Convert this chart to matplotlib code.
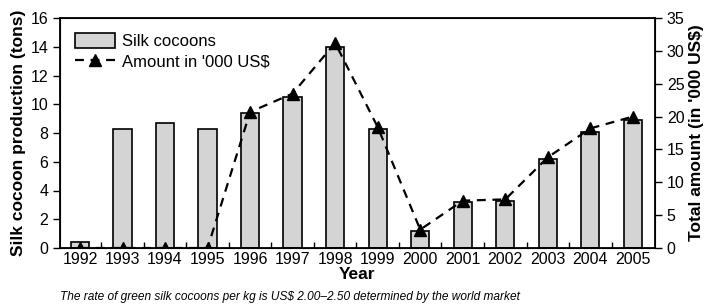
import matplotlib
matplotlib.use("Agg")
import matplotlib.pyplot as plt
import numpy as np
from matplotlib.patches import Patch
from matplotlib.lines import Line2D

years = ["1992", "1993", "1994", "1995", "1996", "1997", "1998",
         "1999", "2000", "2001", "2002", "2003", "2004", "2005"]
cocoons_tons = [0.4, 8.3, 8.7, 8.3, 9.4, 10.5, 14.0, 8.3, 1.2, 3.2, 3.3, 6.2, 8.1, 8.9]
amount_usd_k = [0, 0, 0, 0, 20.7, 23.5, 31.2, 18.4, 2.8, 7.2, 7.4, 13.8, 18.2, 20.0]
left_ticks = [0, 2, 4, 6, 8, 10, 12, 14, 16]
right_ticks = [0, 5, 10, 15, 20, 25, 30, 35]

plt.rcParams['font.family'] = ['Liberation Sans', 'DejaVu Sans']

fig = plt.figure(figsize=(7.04, 3.07), dpi=100)
ax = fig.add_axes([60/704, 1 - 248/307, (655-60)/704, (248-18)/307])
x = np.arange(len(years))
ax.bar(x, cocoons_tons, width=0.43, color='#d4d4d4', edgecolor='black', linewidth=1.2, zorder=2)
ax.set_xlim(-0.47, 13.52)
ax.set_ylim(0, 16)
ax.set_yticks(left_ticks)
ax.set_xticks(x)
ax.set_xticklabels(years)
ax.set_xticks(x[:-1] + 0.5, minor=True)
ax.tick_params(axis='x', which='major', length=0, labelsize=11.5, pad=3)
ax.tick_params(axis='x', which='minor', length=4, direction='in', width=1)
ax.tick_params(axis='y', labelsize=11.5, length=5, width=1)
ax.set_xlabel("Year", fontsize=12.5, fontweight='bold', labelpad=0)
ax.set_ylabel("Silk cocoon production (tons)", fontsize=12.5, fontweight='bold', labelpad=3)
for s in ax.spines.values():
    s.set_linewidth(1.3)

ax2 = ax.twinx()
ax2.plot(x, amount_usd_k, linestyle=(0, (4, 3)), color='black', linewidth=1.6,
         marker='^', markersize=8, zorder=3)
ax2.set_ylim(0, 35)
ax2.set_yticks(right_ticks)
ax2.tick_params(axis='y', labelsize=11.5, length=5, width=1)
ax2.set_ylabel("Total amount (in '000 US$)", fontsize=12.5, fontweight='bold', labelpad=3)

handles = [Patch(facecolor='#d4d4d4', edgecolor='black', linewidth=1.2),
           Line2D([0], [0], linestyle=(0, (4, 3)), color='black', linewidth=1.6,
                  marker='^', markersize=8)]
ax.legend(handles, ["Silk cocoons", "Amount in '000 US$"], loc='upper left',
          frameon=False, fontsize=12, handlelength=2.4, handleheight=1.0,
          borderaxespad=0.5, labelspacing=0.25, handletextpad=0.4)

fig.text(60/704, 1 - 297/307, "The rate of green silk cocoons per kg is US$ 2.00\u20132.50 determined by the world market",
         fontsize=8.6, style='italic', va='center', ha='left')

fig.savefig("out.png", dpi=100)
